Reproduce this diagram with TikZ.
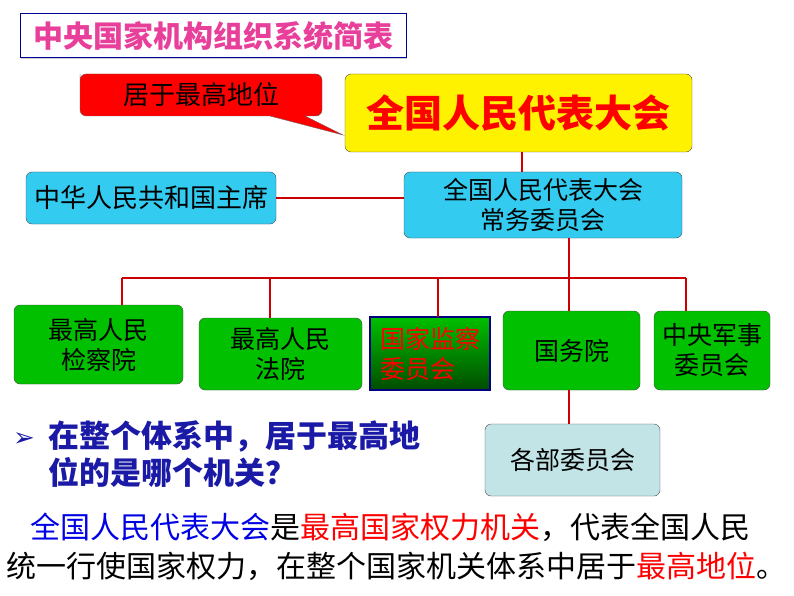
\documentclass[tikz,border=0pt]{standalone}
\usepackage{fontspec}
\setmainfont{Noto Sans CJK SC}
\newfontfamily\djv{DejaVu Sans}
\usetikzlibrary{shadows}
\definecolor{gr}{HTML}{00C000}
\definecolor{cy}{HTML}{33CCF0}
\definecolor{lb}{HTML}{C2E4E6}
\definecolor{tblue}{HTML}{1A1AA6}
\definecolor{pink}{HTML}{E8409A}
\tikzset{
 box/.style={draw=black!70, rounded corners=6pt, inner sep=0pt, align=center},
 conn/.style={draw=red!80!black, line width=1.5pt},
}
\newcommand{\fs}[1]{\fontsize{#1pt}{1.2\dimexpr#1pt\relax}\selectfont}
\begin{document}
\begin{tikzpicture}[x=1pt,y=-1pt]
\useasboundingbox (0,0) rectangle (794,596);
\fill[white] (0,0) rectangle (794,596);
% title
\node[draw=blue!60!black, line width=1pt, fill=white, minimum width=386pt, minimum height=44pt, inner sep=0pt, text=pink, font=\fs{30}\bfseries, drop shadow={shadow xshift=1pt,shadow yshift=-1.5pt,opacity=.4}] (title) at (213,36) {中央国家机构组织系统简表};
% callout
\fill[red, draw=black!60] (80,80) [rounded corners=6pt] -- (80,74) -- (322,74) -- (322,116) [sharp corners] -- (305,116) -- (343,135) -- (270,116) [rounded corners=6pt] -- (80,116) -- cycle;
\node[font=\fs{26}] (call) at (201,95) {居于最高地位};
% yellow
\node[box, fill=yellow, minimum width=347pt, minimum height=78pt, font=\fs{38}\bfseries, text=red] (npc) at (518.5,113) {全国人民代表大会};
% cyan
\node[box, fill=cy, minimum width=250pt, minimum height=52pt, font=\fs{26}] (pres) at (151,198) {中华人民共和国主席};
\node[box, fill=cy, minimum width=278pt, minimum height=66pt, font=\fs{25}] (sc) at (543,205) {全国人民代表大会\\常务委员会};
% green
\node[box, fill=gr, minimum width=169pt, minimum height=79pt, font=\fs{25}] (proc) at (98.5,344.5) {最高人民\\检察院};
\node[box, fill=gr, minimum width=163pt, minimum height=72pt, font=\fs{25}] (court) at (280.5,354) {最高人民\\法院};
\shade[top color=green!75!black, bottom color=green!30!black, draw=blue!50!black, line width=1.2pt] (370,317) rectangle (490,390);
\node[inner sep=0pt, minimum width=120pt, minimum height=73pt, font=\fs{25}, text=red, align=left] (sup) at (430,353.5) {国家监察\\委员会};
\node[box, fill=gr, minimum width=137pt, minimum height=79pt, font=\fs{25}] (state) at (571.5,350.5) {国务院};
\node[box, fill=gr, minimum width=116pt, minimum height=79pt, font=\fs{25}] (mil) at (712,350.5) {中央军事\\委员会};
\node[box, fill=lb, minimum width=175pt, minimum height=72pt, font=\fs{25}] (dept) at (572.5,460) {各部委员会};
% connectors
\coordinate (h1) at (122,278); \coordinate (h2) at (686,278);
\draw[conn] (npc.south -| 522,0) -- (sc.north -| 522,0);
\draw[conn] (pres.east) -- (sc.west |- pres.east);
\draw[conn] (sc.south -| 569,0) -- (state.north -| 569,0);
\draw[conn] (h1) -- (h2);
\draw[conn] (h1) -- (proc.north -| h1);
\draw[conn] (270,278) -- (court.north -| 270,0);
\draw[conn] (438,278) -- (sup.north -| 438,0);
\draw[conn] (h2) -- (mil.north -| h2);
\draw[conn] (state.south -| 569,0) -- (dept.north -| 569,0);
% bullet question
\node[text=tblue, font=\djv\fs{26}] (arrow) at (24,440) {➢};
\node[anchor=north west, text=tblue, font=\fs{31}\bfseries, align=left, inner sep=0pt] (q) at (48,420) {在整个体系中，居于最高地\\位的是哪个机关？};
% conclusion
\node[anchor=west, inner sep=0pt, font=\fs{30}] (l1) at (30,527) {\textcolor{blue!90!black}{全国人民代表大会}是\textcolor{red}{最高国家权力机关}，代表全国人民};
\node[anchor=west, inner sep=0pt, font=\fs{30}] (l2) at (6,566) {统一行使国家权力，在整个国家机关体系中居于\textcolor{red}{最高地位}。};
\end{tikzpicture}
\end{document}
